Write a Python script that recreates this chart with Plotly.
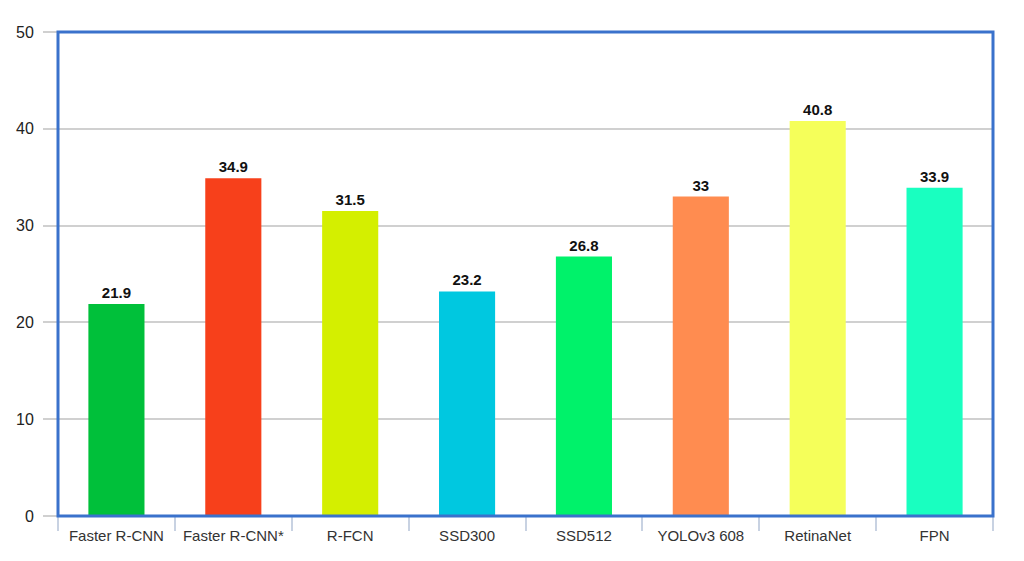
import plotly.graph_objects as go

categories = ["Faster R-CNN", "Faster R-CNN*", "R-FCN", "SSD300", "SSD512", "YOLOv3 608", "RetinaNet", "FPN"]
values = [21.9, 34.9, 31.5, 23.2, 26.8, 33, 40.8, 33.9]
value_labels = ["21.9", "34.9", "31.5", "23.2", "26.8", "33", "40.8", "33.9"]
colors = ["#00c03a", "#f7401b", "#d4ef00", "#00c8e0", "#00f26a", "#ff8c50", "#f5ff5a", "#19ffc0"]
y_ticks = [0, 10, 20, 30, 40, 50]

fig = go.Figure(go.Bar(
    x=categories, y=values,
    marker=dict(color=colors, line=dict(width=0)),
    text=value_labels, textposition="outside", cliponaxis=False,
    textfont=dict(family="Arial, Liberation Sans, sans-serif", size=15, color="#111111", weight="bold"),
))

fig.update_layout(
    width=1024, height=561,
    margin=dict(l=58, r=31, t=32, b=45),
    paper_bgcolor="white", plot_bgcolor="white",
    bargap=0.52, showlegend=False,
    font=dict(family="Arial, Liberation Sans, sans-serif"),
)
fig.update_yaxes(
    range=[0, 50], tickvals=y_ticks, showgrid=True, gridcolor="#d0d0d0", gridwidth=1.5,
    ticks="outside", ticklen=14, tickcolor="#d0d0d0", tickwidth=1.5,
    tickfont=dict(size=16, color="#222222"), ticklabelstandoff=6, zeroline=False,
)
fig.update_xaxes(
    ticks="outside", tickson="boundaries", ticklen=14, tickcolor="#c8d2e2", tickwidth=1.5,
    tickfont=dict(size=15, color="#333333"), ticklabelstandoff=9, showgrid=False,
)
fig.add_shape(type="rect", xref="x domain", yref="y domain", x0=0, x1=1, y0=0, y1=1,
              line=dict(color="#3a72cc", width=3), layer="above")

fig.write_html("out.html")
